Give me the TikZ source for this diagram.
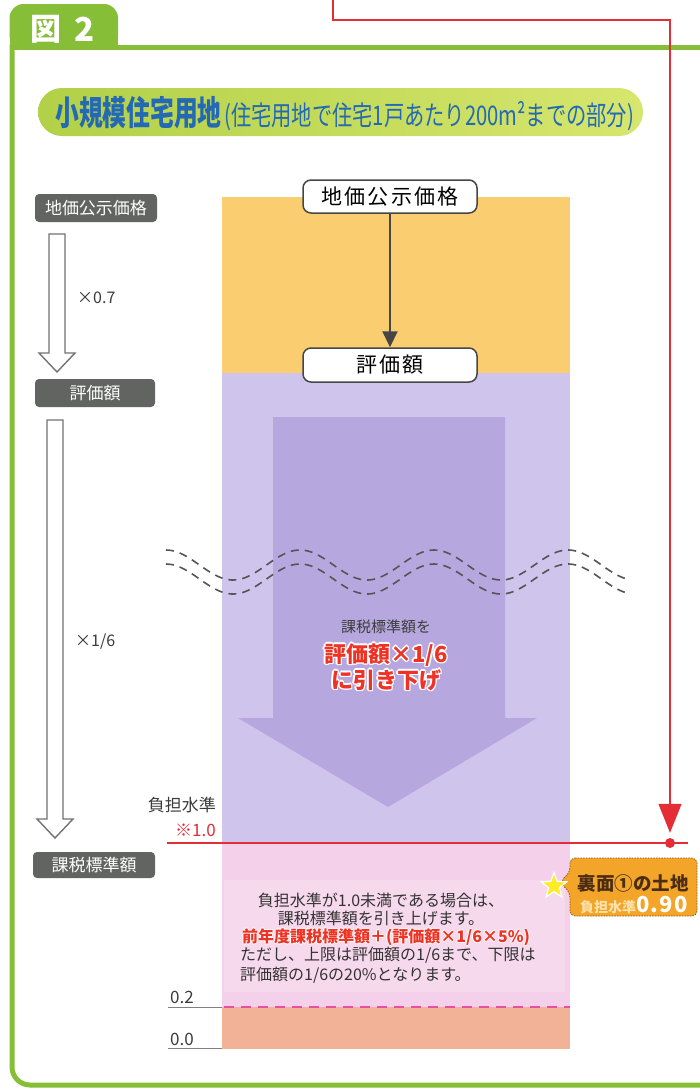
\documentclass[tikz,border=0pt]{standalone}
\usepackage{fontspec}
\setmainfont{Noto Sans CJK JP}
\usepackage{graphicx}
\usetikzlibrary{arrows.meta,shapes.geometric,calc}
\definecolor{frameG}{RGB}{135,190,55}
\definecolor{titleB}{RGB}{35,105,180}
\definecolor{pillL}{RGB}{178,208,72}
\definecolor{pillR}{RGB}{215,230,110}
\definecolor{redc}{RGB}{228,45,55}
\definecolor{redtxt}{RGB}{238,50,35}
\definecolor{yel}{RGB}{250,205,112}
\definecolor{pur}{RGB}{206,196,236}
\definecolor{arw}{RGB}{182,168,222}
\definecolor{pnk}{RGB}{245,208,234}
\definecolor{sal}{RGB}{242,178,152}
\definecolor{lblgray}{RGB}{98,100,97}
\definecolor{cgray}{RGB}{70,70,70}
\definecolor{hgray}{RGB}{115,115,115}
\definecolor{wgray}{RGB}{85,85,85}
\definecolor{txtgray}{RGB}{60,60,60}
\definecolor{orng}{RGB}{242,165,40}
\definecolor{obrown}{RGB}{150,90,20}
\definecolor{cbrown}{RGB}{75,45,20}
\definecolor{ocream}{RGB}{252,225,170}
\definecolor{starY}{RGB}{255,235,40}
\definecolor{pdash}{RGB}{230,80,160}
\newcommand\fsz[1]{\fontsize{#1}{#1}\selectfont}
\begin{document}
\begin{tikzpicture}[x=1pt,y=-1pt,
  lbox/.style={fill=lblgray, text=white, rounded corners=4pt, inner sep=0pt, font=\fsz{17}},
  cbox/.style={draw=cgray, line width=1.5pt, fill=white, rounded corners=8pt, minimum width=174pt, inner sep=0pt, font={\fsz{21}\addfontfeature{LetterSpace=10}}},
  hollow/.style={draw=hgray, fill=white, line width=1.4pt, line join=miter},
  wave/.style={draw=wgray, line width=1.6pt, dash pattern=on 8pt off 6pt},
  redline/.style={draw=redc, line width=1.2pt},
  gtxt/.style={text=txtgray, inner sep=0pt},
  btxt/.style={text=black!80, inner sep=0pt, font=\fsz{16}},
  outl/.style={text=white, inner sep=0pt}]
\useasboundingbox (0,0) rectangle (699,1090);
\fill[white] (0,0) rectangle (699,1090);
% colour bands
\fill[yel] (222,197) rectangle (570,373);
\fill[pur] (222,373) rectangle (570,843);
\fill[pnk] (222,843) rectangle (570,1007);
\fill[sal] (222,1007) rectangle (570,1049);
\fill[white,opacity=0.2] (224,880) rectangle (565,992);
% big arrow
\fill[arw] (273,417) -- (505,417) -- (505,718) -- (537,718) -- (388,807) -- (238,718) -- (273,718) -- cycle;
% wavy break lines
\foreach \o in {0,14}
  \draw[wave] plot[domain=166:627, samples=100, smooth] (\x,{565+\o-15*cos(2.68657*(\x-300))});
% frame
\draw[frameG, line width=5pt] (12,47) -- (710,47);
\draw[frameG, line width=5pt, rounded corners=18pt] (12,44.5) -- (12,1085) -- (710,1085);
\fill[frameG, rounded corners=14pt] (9.5,4) rectangle (118,49);
\fill[frameG] (9.5,30) rectangle (118,49);
\node[text=white, font=\fsz{31}\bfseries, inner sep=0pt] (tabA) at (46,29) {図};
\node[text=white, font=\fsz{33}\bfseries, inner sep=0pt] (tabB) at (85,29) {2};
% title pill
\shade[left color=pillL, right color=pillR, rounded corners=24pt] (38,88) rectangle (643,136);
\node[anchor=base west, text=titleB, inner sep=0pt] (tt) at (55,125.5) {\scalebox{0.7}[1]{\fsz{34}\bfseries 小規模住宅用地}};
\node[anchor=base west, text=titleB, inner sep=0pt] (ts) at ([xshift=2pt]tt.base east) {\scalebox{0.75}[1]{\fsz{27}(住宅用地で住宅1戸あたり200m²までの部分)}};
% red connector
\node[circle, fill=redc, inner sep=0pt, minimum size=10pt] (dot) at (670,843) {};
\coordinate (r0) at (333,-2);
\coordinate (r1) at (333,20);
\coordinate (r2) at (670,20);
\draw[redline, -{Triangle[width=23pt,length=29pt]}] (r0) -- (r1) -- (r2) -- ($(dot.north)+(0,-5)$);
\coordinate (hl) at (167,843);
\coordinate (hr) at (688,843);
\draw[redline] (hl) -- (hr);
% centre boxes
\node[cbox, minimum height=33pt] (c1) at (390,196.5) {地価公示価格};
\node[cbox, minimum height=34pt] (c2) at (390,365) {評価額};
\draw[cgray, line width=2pt, -{Triangle[width=15pt,length=16pt]}] (c1.south) -- (c2.north);
% left labels
\node[lbox, minimum width=122pt, minimum height=28pt] (l1) at (96,208) {地価公示価格};
\node[lbox, minimum width=120pt, minimum height=28pt] (l2) at (95,393) {評価額};
\node[lbox, minimum width=122pt, minimum height=26pt] (l3) at (94,865) {課税標準額};
\draw[hollow] (49,234) -- (65,234) -- (65,353) -- (75,353) -- (57,372) -- (39,353) -- (49,353) -- cycle;
\draw[hollow] (47,420) -- (63,420) -- (63,819) -- (73,819) -- (55,838) -- (37,819) -- (47,819) -- cycle;
\node[gtxt, anchor=west, font=\fsz{16}] (m1) at (77,298) {×0.7};
\node[gtxt, anchor=west, font=\fsz{16}] (m2) at (75,642) {×1/6};
\node[gtxt, anchor=east, font=\fsz{17}] (f1) at (216,805) {負担水準};
\node[anchor=east, text=redc, inner sep=0pt, font=\fsz{17}] (f2) at (216,830) {※1.0};
% scale marks
\node[gtxt, anchor=base west, font=\fsz{17}] (s2) at (170,1003) {0.2};
\node[gtxt, anchor=base west, font=\fsz{17}] (s0) at (170,1045) {0.0};
\draw[gray, line width=1pt] (168,1007) -- (222,1007);
\draw[gray, line width=1pt] (168,1048) -- (222,1048);
\draw[pdash, line width=2pt, dash pattern=on 10pt off 7pt] (224,1007) -- (570,1007);
% text in big arrow
\node[gtxt, font=\fsz{15}] (t1) at (386,627) {課税標準額を};
\foreach \dx/\dy in {-1.4/0,1.4/0,0/-1.4,0/1.4,-1/-1,1/1,-1/1,1/-1}{
  \node[outl, font=\fsz{22}\bfseries] at ($(386,655)+(\dx,\dy)$) {評価額×1/6};
  \node[outl, font=\fsz{22}\bfseries] at ($(386,680)+(\dx,\dy)$) {に引き下げ};
}
\node[text=redtxt, inner sep=0pt, font=\fsz{22}\bfseries] (t2) at (386,655) {評価額×1/6};
\node[text=redtxt, inner sep=0pt, font=\fsz{22}\bfseries] (t3) at (386,680) {に引き下げ};
% bottom explanation
\node[btxt] (b1) at (381,900) {負担水準が1.0未満である場合は、};
\node[btxt] (b2) at (381,918) {課税標準額を引き上げます。};
\foreach \dx/\dy in {-1/0,1/0,0/-1,0/1}{
  \node[outl, font=\fsz{16}\bfseries] at ($(386,937)+(\dx,\dy)$) {前年度課税標準額＋(評価額×1/6×5\%)};
}
\node[text=redtxt, inner sep=0pt, font=\fsz{16}\bfseries] (b3) at (386,937) {前年度課税標準額＋(評価額×1/6×5\%)};
\node[btxt, anchor=west] (b4) at (240,955) {ただし、上限は評価額の1/6まで、下限は};
\node[btxt, anchor=west] (b5) at (240,975) {評価額の1/6の20\%となります。};
% callout
\filldraw[fill=orng, draw=obrown, line width=0.8pt, dash pattern=on 1.5pt off 1.2pt, rounded corners=5pt]
  (570,858) -- (697,858) -- (697,916) -- (570,916) -- (570,893) -- (560,882) -- (570,872) -- cycle;
\node[text=cbrown, inner sep=0pt, font=\fsz{18.5}\bfseries] (ca) at (633,883) {裏面①の土地};
\node[text=white, inner sep=0pt] (cb) at (634,905) {{\fsz{14}\bfseries\color{ocream}負担水準}{\fsz{22}\bfseries\addfontfeature{LetterSpace=6}0.90}};
\node[star, star points=5, star point ratio=2.4, fill=starY, draw=white, line width=1.2pt, minimum size=27pt, inner sep=0pt] (st) at (554,886) {};
\end{tikzpicture}
\end{document}
